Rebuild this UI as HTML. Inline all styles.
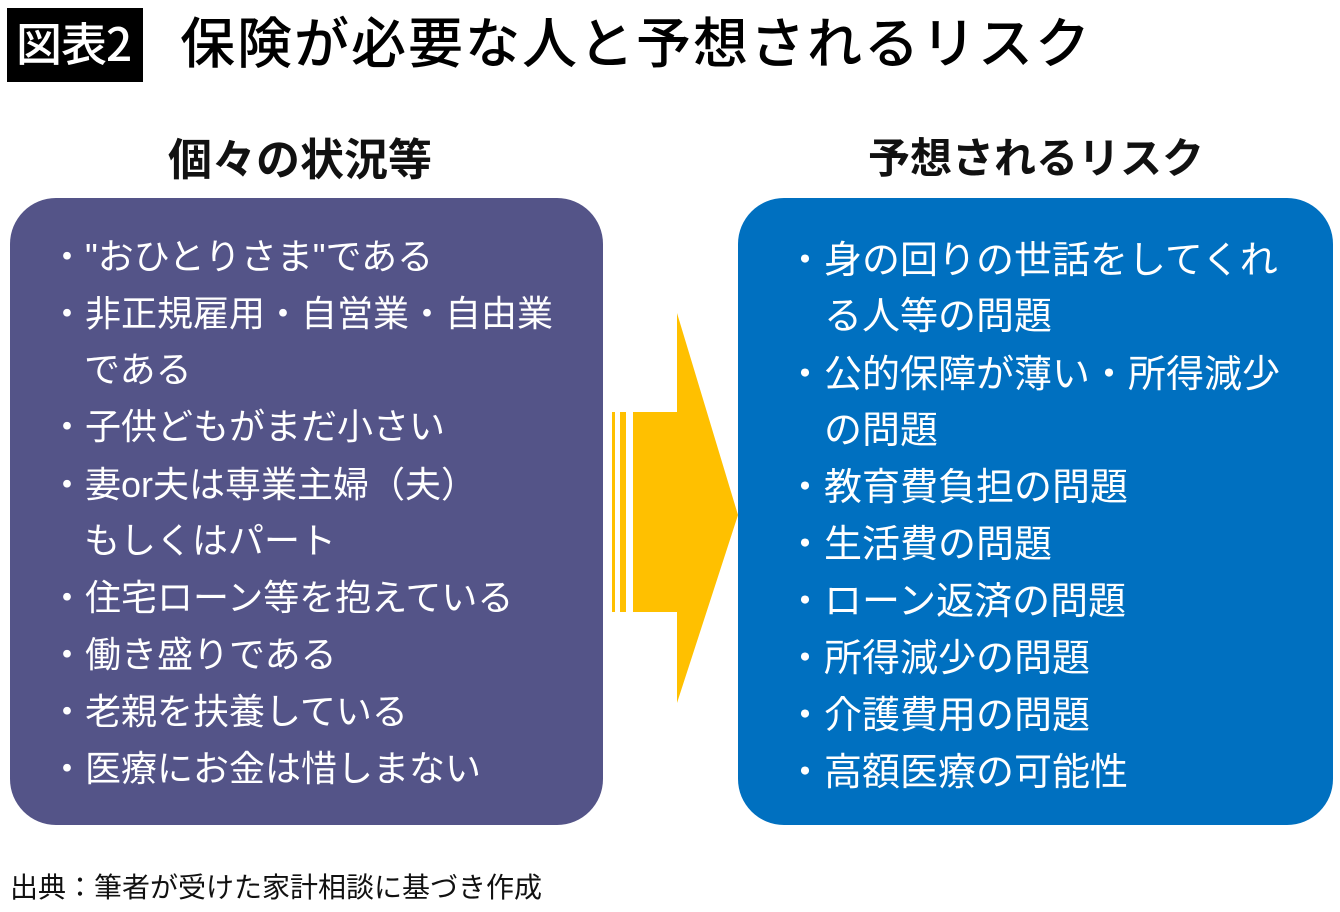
<!DOCTYPE html>
<html><head><meta charset="utf-8">
<style>
body{margin:0;width:1340px;height:912px;background:#fff;position:relative;overflow:hidden;font-family:"Liberation Sans","Noto Sans CJK JP",sans-serif;}
.a{position:absolute;white-space:nowrap;line-height:1;}
.L{color:#fff;font-size:36px;}
.R{color:#fff;font-size:38px;}
</style></head><body>
<div class="a" style="left:7px;top:8px;width:136px;height:74px;background:#000;"></div>
<div class="a" style="left:16px;top:19px;color:#fff;font-size:46px;font-weight:500;font-family:'Noto Sans CJK JP',sans-serif;letter-spacing:-1px;">図表2</div>
<div class="a" style="left:180px;top:12px;color:#000;font-size:55px;font-weight:500;letter-spacing:2px;font-family:'Noto Sans CJK JP',sans-serif;">保険が必要な人と予想されるリスク</div>
<div class="a" style="left:168px;top:134px;font-size:44px;font-weight:bold;color:#111;font-family:'Noto Sans CJK JP',sans-serif;">個々の状況等</div>
<div class="a" style="left:868px;top:135px;font-size:42px;font-weight:bold;color:#111;font-family:'Noto Sans CJK JP',sans-serif;">予想されるリスク</div>
<div class="a" style="left:10px;top:198px;width:593px;height:627px;background:#545488;border-radius:46px;"></div>
<div class="a" style="left:738px;top:198px;width:595px;height:627px;background:#0070c0;border-radius:46px;"></div>
<svg class="a" style="left:0;top:0" width="1340" height="912">
<rect x="612" y="412" width="3" height="200" fill="#ffc000"/>
<rect x="620" y="412" width="6" height="200" fill="#ffc000"/>
<polygon points="633,412 677,412 677,313 738,515 677,703 677,612 633,612" fill="#ffc000"/>
</svg>
<div class="a L" style="left:49px;top:239px;">・"おひとりさま"である</div>
<div class="a L" style="left:49px;top:296px;">・非正規雇用・自営業・自由業</div>
<div class="a L" style="left:84px;top:352px;">である</div>
<div class="a L" style="left:49px;top:409px;">・子供どもがまだ小さい</div>
<div class="a L" style="left:49px;top:467px;">・妻or夫は専業主婦（夫）</div>
<div class="a L" style="left:84px;top:523px;">もしくはパート</div>
<div class="a L" style="left:49px;top:580px;">・住宅ローン等を抱えている</div>
<div class="a L" style="left:49px;top:637px;">・働き盛りである</div>
<div class="a L" style="left:49px;top:694px;">・老親を扶養している</div>
<div class="a L" style="left:49px;top:751px;">・医療にお金は惜しまない</div>
<div class="a R" style="left:786px;top:242px;">・身の回りの世話をしてくれ</div>
<div class="a R" style="left:824px;top:298px;">る人等の問題</div>
<div class="a R" style="left:786px;top:356px;">・公的保障が薄い・所得減少</div>
<div class="a R" style="left:824px;top:412px;">の問題</div>
<div class="a R" style="left:786px;top:469px;">・教育費負担の問題</div>
<div class="a R" style="left:786px;top:526px;">・生活費の問題</div>
<div class="a R" style="left:786px;top:583px;">・ローン返済の問題</div>
<div class="a R" style="left:786px;top:640px;">・所得減少の問題</div>
<div class="a R" style="left:786px;top:697px;">・介護費用の問題</div>
<div class="a R" style="left:786px;top:754px;">・高額医療の可能性</div>
<div class="a" style="left:10px;top:874px;font-size:28px;color:#111;">出典：筆者が受けた家計相談に基づき作成</div>
</body></html>
